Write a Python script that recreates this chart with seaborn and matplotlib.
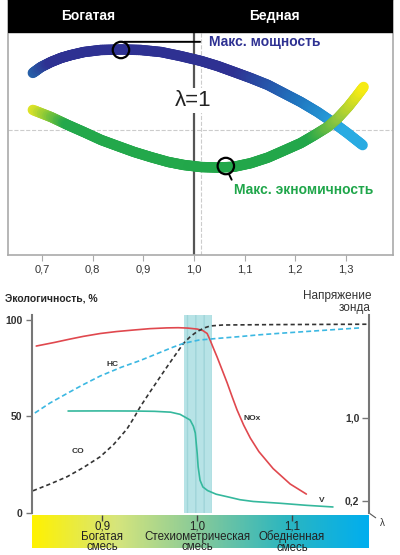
import numpy as np
import seaborn as sns
import matplotlib.pyplot as plt
from matplotlib.collections import LineCollection
from matplotlib.colors import LinearSegmentedColormap

sns.set_style("white")
plt.rcParams['font.family'] = ['Liberation Sans', 'DejaVu Sans']

# --- upper chart: power / economy vs lambda ---
power_lambda = [0.682, 0.698, 0.718, 0.738, 0.757, 0.783, 0.816, 0.856, 0.895, 0.935, 0.974,
                1.014, 1.047, 1.079, 1.112, 1.146, 1.177, 1.211, 1.244, 1.276, 1.305, 1.333]
power_level = [71.4, 73.7, 75.7, 77.3, 78.4, 79.6, 80.4, 80.6, 80.4, 79.6, 78.0,
               76.1, 74.1, 71.8, 69.4, 66.7, 63.5, 60.0, 56.1, 51.8, 47.5, 43.1]
econ_lambda = [0.682, 0.718, 0.751, 0.783, 0.817, 0.850, 0.882, 0.915, 0.949, 0.980, 1.014,
               1.047, 1.079, 1.112, 1.146, 1.177, 1.211, 1.237, 1.264, 1.284, 1.304, 1.320, 1.335]
econ_level = [56.9, 54.1, 51.0, 48.2, 45.1, 42.7, 40.4, 38.4, 36.5, 35.3, 34.5,
              34.3, 34.6, 36.0, 38.2, 40.9, 43.9, 46.9, 50.2, 53.7, 58.0, 62.0, 65.9]
power_max = (0.856, 80.4)
econ_max = (1.063, 34.9)
top_ticks = [0.7, 0.8, 0.9, 1.0, 1.1, 1.2, 1.3]
top_ticklabels = ["0,7", "0,8", "0,9", "1,0", "1,1", "1,2", "1,3"]
header_labels = ["Богатая", "Бедная"]
header_pos = [0.791, 1.158]

# --- lower chart: emissions and probe voltage ---
nox_lambda = [0.8305, 0.85, 0.865, 0.88, 0.898, 0.915, 0.933, 0.95, 0.968, 0.98, 0.99, 1.0, 1.006,
              1.0105, 1.0137, 1.017, 1.021, 1.026, 1.0316, 1.037, 1.042, 1.049, 1.056, 1.065, 1.08,
              1.098, 1.115]
nox = [86.5, 88.4, 90.0, 91.5, 93.0, 94.0, 94.8, 95.5, 95.9, 96.0, 95.8, 95.3, 94.5,
       93.0, 89.5, 85.5, 80.8, 74.5, 67.4, 60.0, 53.4, 45.5, 38.8, 31.8, 23.0,
       15.0, 9.8]
co_lambda = [0.827, 0.845, 0.863, 0.88, 0.898, 0.912, 0.926, 0.933, 0.94, 0.95, 0.961, 0.97, 0.98,
             0.9856, 0.993, 1.0, 1.007, 1.0137, 1.027, 1.08, 1.179]
co = [11.5, 15.0, 18.8, 23.5, 29.2, 35.5, 43.5, 49.0, 55.0, 62.5, 70.5, 77.0, 84.0,
      87.9, 91.5, 94.0, 95.8, 96.9, 97.4, 97.6, 97.8]
hc_lambda = [0.829, 0.845, 0.865, 0.88, 0.898, 0.92, 0.94, 0.96, 0.975, 0.9856, 1.002, 1.02,
             1.045, 1.065, 1.087, 1.12, 1.15, 1.1716]
hc = [51.8, 57.0, 62.5, 66.5, 71.0, 75.5, 79.0, 83.0, 86.0, 87.9, 89.6, 90.4,
      91.4, 92.3, 93.1, 94.2, 95.2, 95.9]
v_lambda = [0.864, 0.9, 0.933, 0.955, 0.972, 0.982, 0.9926, 0.996, 0.998, 1.0, 1.001, 1.003, 1.006,
            1.011, 1.02, 1.032, 1.045, 1.059, 1.087, 1.115, 1.143]
volts = [1.067, 1.068, 1.067, 1.064, 1.056, 1.035, 0.98, 0.92, 0.855, 0.66, 0.53, 0.40, 0.335,
         0.300, 0.265, 0.24, 0.212, 0.195, 0.178, 0.158, 0.142]
left_ticks = [0, 50, 100]
right_ticks = [0.2, 1.0]
right_ticklabels = ["0,2", "1,0"]
mix_ticks = [0.9, 1.0, 1.1]
mix_labels = ["0,9\nБогатая\nсмесь", "1,0\nСтехиометрическая\nсмесь", "1,1\nОбедненная\nсмесь"]
stoich_band = (0.986, 1.016)


def grad_line(ax, x, y, cmap, lw, steps=10):
    # same polyline, split finely so the colour changes smoothly
    xs, ys = [], []
    for i in range(len(x) - 1):
        f = np.linspace(0, 1, steps, endpoint=False)
        xs.extend(x[i] + (x[i + 1] - x[i]) * f)
        ys.extend(y[i] + (y[i + 1] - y[i]) * f)
    xs.append(x[-1]); ys.append(y[-1])
    pts = np.column_stack([xs, ys])
    segs = np.stack([pts[:-1], pts[1:]], axis=1)
    t = (pts[:-1, 0] - x[0]) / (x[-1] - x[0])
    lc = LineCollection(segs, colors=cmap(t), linewidths=lw, capstyle='round', joinstyle='round', zorder=3)
    ax.add_collection(lc)


blue_cmap = LinearSegmentedColormap.from_list("pw", [(0, "#2760a8"), (0.05, "#2e3192"), (0.62, "#2e3192"),
                                                     (0.82, "#1f78c1"), (0.95, "#29abe2"), (1, "#29abe2")])
green_cmap = LinearSegmentedColormap.from_list("ec", [(0, "#dde328"), (0.1, "#23a84b"), (0.84, "#22a74a"),
                                                      (0.93, "#94c83e"), (1, "#f6eb14")])

fig = plt.figure(figsize=(4, 5.55), dpi=100)

ax1 = fig.add_axes([0.02, 0.5405, 0.9625, 0.4595])
ax1.set_xlim(0.633, 1.393)
ax1.set_ylim(0, 100)
ax1.axhspan(87.5, 100, color="black", zorder=5)
for lab, xp in zip(header_labels, header_pos):
    ax1.text(xp, 93.7, lab, color="white", fontsize=10, fontweight="bold", ha="center", va="center", zorder=6)

ax1.axvline(1.0, ymax=0.875, color="#555555", lw=1.6, zorder=2)
ax1.axvline(1.014, ymax=0.875, color="#cccccc", lw=0.8, ls="--", zorder=1)
ax1.axhline(49, color="#cccccc", lw=0.8, ls="--", zorder=1)

grad_line(ax1, power_lambda, power_level, blue_cmap, 7.5)
grad_line(ax1, econ_lambda, econ_level, green_cmap, 7.5)

ax1.scatter([power_max[0], econ_max[0]], [power_max[1], econ_max[1]], s=140, facecolors="none",
            edgecolors="black", linewidths=1.6, zorder=4)
ax1.annotate("Макс. мощность", xy=(power_max[0] + 0.006, 83.6), xytext=(1.0296, 83.6),
             color="#2e3192", fontsize=10, fontweight="bold", va="center", ha="left",
             arrowprops=dict(arrowstyle="-", color="black", lw=1.4, relpos=(0, 0.5), shrinkA=4, shrinkB=0))
ax1.annotate("Макс. экномичность", xy=(econ_max[0] + 0.006, 31.8), xytext=(1.0789, 25.5),
             color="#1fa64a", fontsize=10, fontweight="bold", va="center", ha="left",
             arrowprops=dict(arrowstyle="-", color="black", lw=1.4, relpos=(0, 0.9), shrinkA=0, shrinkB=0))
ax1.text(0.998, 60.5, "λ=1", fontsize=16, ha="center", va="center", color="#222222", zorder=4,
         bbox=dict(facecolor="white", edgecolor="none", pad=1.5))

ax1.set_xticks(top_ticks)
ax1.set_xticklabels(top_ticklabels)
ax1.set_yticks([])
ax1.tick_params(axis="x", bottom=True, length=4, width=0.8, color="#aaaaaa", labelsize=8,
                labelcolor="#333333", pad=3)
for s in ax1.spines.values():
    s.set_color("#aaaaaa")
    s.set_linewidth(1.2)

# --- lower chart ---
ax2 = fig.add_axes([0.08, 0.0757, 0.8425, 0.3568])
ax2.set_xlim(0.826, 1.181)
ax2.set_ylim(0, 102.6)
ax2.axvspan(*stoich_band, facecolor="#b7e3e6", edgecolor="#9fd5d9", hatch="||", lw=0, zorder=0)

sns.lineplot(x=nox_lambda, y=nox, ax=ax2, color="#e0484e", lw=1.2, estimator=None)
sns.lineplot(x=co_lambda, y=co, ax=ax2, color="#333333", lw=1.2, estimator=None)
ax2.lines[-1].set_dashes([2.5, 1.8])
sns.lineplot(x=hc_lambda, y=hc, ax=ax2, color="#3cb8e2", lw=1.2, estimator=None)
ax2.lines[-1].set_dashes([3, 1.8])

ax2.text(0.9105, 76.7, "HC", fontsize=6, fontweight="bold", color="#333333", ha="center", va="center")
ax2.text(0.874, 31.6, "CO", fontsize=6, fontweight="bold", color="#333333", ha="center", va="center")
ax2.text(1.058, 49.2, "NOx", fontsize=6, fontweight="bold", color="#333333", ha="center", va="center")
ax2.text(1.1316, 6.7, "V", fontsize=6, fontweight="bold", color="#333333", ha="center", va="center")

ax2.set_xticks([])
ax2.set_yticks(left_ticks)
ax2.set_yticklabels([str(v) for v in left_ticks])
ax2.tick_params(axis="y", left=True, direction="out", length=4, width=1, color="#777777",
                labelsize=7.5, labelcolor="#333333", pad=3)
for lab in ax2.get_yticklabels():
    lab.set_fontweight("bold")
ax2.spines["top"].set_visible(False)
ax2.spines["bottom"].set_visible(False)
ax2.spines["right"].set_visible(False)
ax2.spines["left"].set_color("#777777")
ax2.spines["left"].set_linewidth(1.5)

axv = ax2.twinx()
axv.set_ylim(0.084, 1.993)
sns.lineplot(x=v_lambda, y=volts, ax=axv, color="#35b89d", lw=1.2, estimator=None)
axv.set_yticks(right_ticks)
axv.set_yticklabels(right_ticklabels)
axv.tick_params(axis="y", right=True, direction="in", length=5, width=1, color="#777777",
                labelsize=7.5, labelcolor="#333333", pad=-7)
for lab in axv.get_yticklabels():
    lab.set_ha("right")
    lab.set_fontweight("bold")
for side in ["top", "bottom", "left"]:
    axv.spines[side].set_visible(False)
axv.spines["right"].set_color("#777777")
axv.spines["right"].set_linewidth(1.5)
axv.set_xticks([])

ax2.annotate("λ", xy=(1, 0), xycoords="axes fraction", xytext=(8, -7), textcoords="offset points",
             fontsize=7, color="#333333", ha="left", va="center", annotation_clip=False,
             arrowprops=dict(arrowstyle="-", color="#555555", lw=0.8, shrinkA=1, shrinkB=0))

# mixture gradient strip
bar_cmap = LinearSegmentedColormap.from_list("mix", ["#fff200", "#d6e57c", "#85c99a", "#2db6bf", "#00aeef"])
axb = fig.add_axes([0.08, 0.0126, 0.8425, 0.0595])
axb.imshow(np.linspace(0, 1, 256)[None, :], aspect="auto", cmap=bar_cmap, extent=(0.826, 1.181, 0, 1))
axb.set_xlim(0.826, 1.181)
axb.set_ylim(0, 1)
axb.set_xticks(mix_ticks)
axb.set_yticks([])
axb.tick_params(axis="x", top=True, bottom=False, labeltop=False, labelbottom=False,
                direction="in", length=4, width=1, color="#444444")
for s in axb.spines.values():
    s.set_visible(False)
for xp, lab in zip(mix_ticks, mix_labels):
    axb.text(xp, 0.33, lab, ha="center", va="center", fontsize=8.3, linespacing=0.8, color="#222222")

fig.text(0.0125, 0.463, "Экологичность, %", fontsize=7.5, fontweight="bold", ha="left", va="center")
fig.text(0.9275, 0.456, "Напряжение\nзонда", fontsize=8.5, ha="right", va="center", color="#333333",
         linespacing=1.0)

fig.savefig("out.png", dpi=100)
